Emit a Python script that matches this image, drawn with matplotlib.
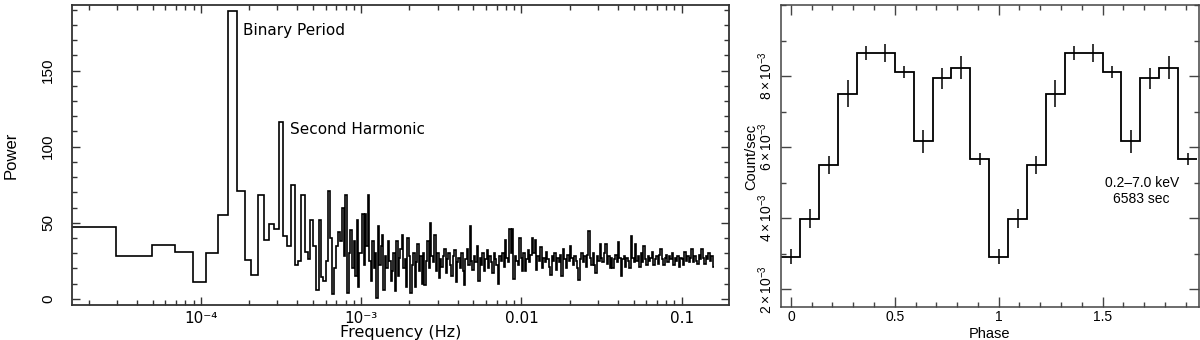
import numpy as np
import matplotlib
matplotlib.use("Agg")
from matplotlib import pyplot as plt
from matplotlib.ticker import FixedLocator, MultipleLocator, LogLocator, NullFormatter

plt.rcParams['font.family'] = ['Liberation Sans', 'DejaVu Sans']
plt.rcParams['mathtext.fontset'] = 'custom'
plt.rcParams['mathtext.rm'] = 'Liberation Sans'
plt.rcParams['mathtext.it'] = 'Liberation Sans'

# ---- power spectrum ----
df = 1.97e-5          # frequency resolution (Hz)
f_max = 0.159         # last bin edge (Hz)

# unbinned powers, harmonics k = 1..50
lin_power = [47.5, 28.5, 35.5, 31, 11, 30, 55, 189, 71, 25.5,
             16, 68.5, 39, 49, 46, 116, 41, 35, 75, 22,
             25, 68.5, 31, 26, 52, 35, 6, 52, 14.5, 12,
             25, 71, 40, 3, 20, 35, 44, 38, 60, 28,
             68, 4, 30, 45, 20, 38, 15, 52, 8, 30]

# geometrically rebinned powers above ~1e-3 Hz
log_power = [30, 56, 22, 56, 35, 68, 25, 12, 38, 20,
             30, 0.5, 48, 22, 35, 42, 6, 28, 20, 38,
             25, 12, 18, 30, 5, 38, 15, 27, 33, 42,
             20, 26, 8, 40, 28, 4, 22, 30, 8, 24,
             36, 18, 28, 10, 30, 9, 25, 38, 20, 50,
             28, 24, 42, 18, 30, 14, 26, 21, 28, 33,
             17, 26, 30, 22, 15, 28, 32, 11, 24, 27,
             20, 30, 18, 9, 26, 33, 22, 48, 25, 19,
             28, 24, 35, 12, 27, 22, 30, 18, 26, 32,
             20, 28, 24, 17, 30, 26, 22, 10, 28, 25,
             30, 21, 39, 27, 24, 46, 30, 46, 13, 28,
             25, 22, 40, 27, 18, 30, 18, 26, 32, 24,
             29, 40, 30, 38.6, 19, 28, 25, 34, 20, 27,
             24, 31, 26, 21, 16, 28, 25, 30, 19, 27,
             24, 29, 15, 33, 26, 20, 29, 25, 35, 27,
             22, 28, 25, 20, 12.4, 26, 30, 24, 28, 21,
             29, 44.7, 27, 22, 30, 22, 17, 28, 25, 36,
             27, 24, 30, 36, 23, 28, 20, 27, 20, 26,
             29, 24, 37.5, 27, 15, 26, 28, 21, 27, 25,
             20, 41, 27, 24, 36, 25, 28, 21, 30, 24,
             35, 26, 22, 28, 25, 27, 31, 22, 26, 28,
             23, 29, 33, 26, 22, 27, 29, 24, 28, 26,
             30, 22, 27, 25, 28, 21, 27, 26, 22, 31,
             25, 28, 24, 27, 33, 24, 28, 25, 23, 29,
             26, 33, 27, 23, 28, 26, 30, 25, 28, 21]

# ---- folded light curve ----
phase_bins = 11
rate = [2.92e-3, 3.99e-3, 5.50e-3, 7.50e-3, 8.65e-3, 8.65e-3,
        8.12e-3, 6.16e-3, 7.94e-3, 8.24e-3, 5.66e-3]
rate_err = [0.22e-3, 0.28e-3, 0.26e-3, 0.38e-3, 0.19e-3, 0.25e-3,
            0.17e-3, 0.33e-3, 0.29e-3, 0.33e-3, 0.17e-3]

fig = plt.figure(figsize=(12, 3.4), dpi=100)

# ================= left panel =================
ax1 = fig.add_axes([0.06, 0.103, 0.5475, 0.882])
n_lin = len(lin_power)
lin_edges = (np.arange(n_lin + 1) + 0.5) * df
log_edges = np.geomspace(lin_edges[-1], f_max, len(log_power) + 1)
edges = np.concatenate([lin_edges, log_edges[1:]])
power = np.array(lin_power + log_power)
ax1.stairs(power, edges, baseline=None, color='black', lw=1.2)

ax1.set_xscale('log')
ax1.set_xlim(1.57e-5, 0.197)
ax1.set_ylim(-4, 193)

ax1.xaxis.set_major_locator(FixedLocator([1e-4, 1e-3, 1e-2, 1e-1]))
ax1.set_xticklabels(['10⁻⁴', '10⁻³', '0.01', '0.1'], fontfamily='DejaVu Sans', fontsize=11)
ax1.xaxis.set_minor_locator(LogLocator(base=10, subs=np.arange(2, 10), numticks=20))
ax1.xaxis.set_minor_formatter(NullFormatter())
ax1.yaxis.set_major_locator(MultipleLocator(50))
ax1.yaxis.set_minor_locator(MultipleLocator(10))
ax1.tick_params(which='both', direction='in', top=True, right=True, color='#333333')
ax1.tick_params(which='major', length=6, width=1)
ax1.tick_params(which='minor', length=3.5, width=1)
ax1.tick_params(axis='x', pad=4)
ax1.tick_params(axis='y', pad=12, labelrotation=90, labelsize=11)
for lbl in ax1.get_yticklabels():
    lbl.set_va('center')
for s in ax1.spines.values():
    s.set_linewidth(1.3)
    s.set_color('#333333')

ax1.text(1.83e-4, 176, 'Binary Period', fontfamily='DejaVu Sans', fontsize=11, va='center')
ax1.text(3.59e-4, 111, 'Second Harmonic', fontfamily='DejaVu Sans', fontsize=11, va='center')
fig.text(400.5 / 1200, 1 - 333 / 340, 'Frequency (Hz)', fontfamily='DejaVu Sans',
         fontsize=11.5, ha='center', va='center')
fig.text(11 / 1200, 1 - 155 / 340, 'Power', fontsize=12, rotation=90, ha='center', va='center')

# ================= right panel =================
ax2 = fig.add_axes([0.6508, 0.0971, 0.348, 0.888])
centers = np.arange(2 * phase_bins) / phase_bins
ph_edges = (np.arange(2 * phase_bins + 1) - 0.5) / phase_bins
rate2 = rate + rate
err2 = rate_err + rate_err
ax2.stairs(rate2, ph_edges, baseline=None, color='black', lw=1.3)
ax2.errorbar(centers, rate2, yerr=err2, fmt='none', ecolor='black', elinewidth=1.1, capsize=0)

ax2.set_xlim(-0.048, 1.962)
ax2.set_ylim(1.5e-3, 10e-3)
ax2.xaxis.set_major_locator(FixedLocator([0, 0.5, 1, 1.5]))
ax2.set_xticklabels(['0', '0.5', '1', '1.5'])
ax2.xaxis.set_minor_locator(MultipleLocator(0.1))
ax2.yaxis.set_major_locator(FixedLocator([2e-3, 4e-3, 6e-3, 8e-3]))
ax2.set_yticklabels([r'$2\times10^{-3}$', r'$4\times10^{-3}$', r'$6\times10^{-3}$', r'$8\times10^{-3}$'])
ax2.yaxis.set_minor_locator(MultipleLocator(1e-3))
ax2.tick_params(which='both', direction='in', top=True, right=True, color='#444444', labelsize=10)
ax2.tick_params(which='major', length=7, width=1)
ax2.tick_params(which='minor', length=3.5, width=1)
ax2.tick_params(axis='x', pad=2.5)
ax2.tick_params(axis='y', pad=4, labelrotation=90)
for lbl in ax2.get_yticklabels():
    lbl.set_va('center')
for s in ax2.spines.values():
    s.set_linewidth(1.1)
    s.set_color('#444444')

ax2.text(1.688, 4.995e-3, '0.2–7.0 keV', fontsize=10, ha='center', va='center')
ax2.text(1.688, 4.536e-3, '6583 sec', fontsize=10, ha='center', va='center')
fig.text(989 / 1200, 1 - 334 / 340, 'Phase', fontsize=10.5, ha='center', va='center')
fig.text(751 / 1200, 1 - 157 / 340, 'Count/sec', fontsize=10.5, rotation=90, ha='center', va='center')

plt.savefig('out.png', dpi=100)
